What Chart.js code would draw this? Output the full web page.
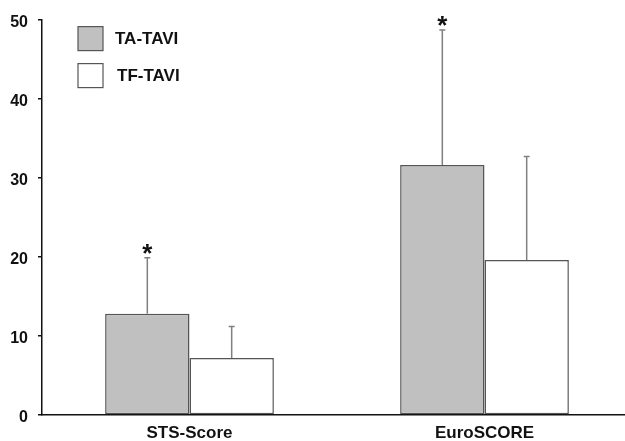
<!DOCTYPE html>
<html>
<head>
<meta charset="utf-8">
<script src="https://cdn.jsdelivr.net/npm/chart.js@4"></script>
<style>
    html, body { margin: 0; padding: 0; background: #fff; overflow: hidden; }
    #wrap { width: 632px; height: 441px; }
</style>
</head>
<body>
<div id="wrap"><canvas id="scoreChart"></canvas></div>
<script>
// risk scores, TA-TAVI vs TF-TAVI (mean + SD, upper error only)
const categories = ['STS-Score', 'EuroSCORE'];
const seriesNames = ['TA-TAVI', 'TF-TAVI'];
const taMean = [12.8, 31.6];
const taSD = [7.1, 17.1];
const tfMean = [7.2, 19.6];
const tfSD = [4.0, 13.1];
const taSignificant = [true, true];
const yTicks = [0, 10, 20, 30, 40, 50];

const FONT = 'Liberation Sans, Arial, sans-serif';

// Upper error bars + asterisks
const errorBarPlugin = {
    id: 'errorBars',
    afterDatasetsDraw(chart) {
        const ctx = chart.ctx;
        const y = chart.scales.y;
        chart.data.datasets.forEach((ds, di) => {
            const meta = chart.getDatasetMeta(di);
            meta.data.forEach((bar, i) => {
                const top = y.getPixelForValue(ds.data[i] + ds.sd[i]);
                ctx.save();
                ctx.strokeStyle = '#808080';
                ctx.lineWidth = 1.5;
                ctx.beginPath();
                ctx.moveTo(bar.x, bar.y);
                ctx.lineTo(bar.x, top);
                ctx.moveTo(bar.x - 3, top);
                ctx.lineTo(bar.x + 3, top);
                ctx.stroke();
                if (ds.significant && ds.significant[i]) {
                    ctx.fillStyle = '#111';
                    ctx.font = 'bold 26px ' + FONT;
                    ctx.textAlign = 'center';
                    ctx.textBaseline = 'alphabetic';
                    ctx.fillText('*', bar.x, top + 4);
                }
                ctx.restore();
            });
        });
    }
};

// Legend boxes in the top-left of the plot
const boxLegendPlugin = {
    id: 'boxLegend',
    afterDraw(chart) {
        const ctx = chart.ctx;
        const area = chart.chartArea;
        chart.data.datasets.forEach((ds, i) => {
            const bx = area.left + 36;
            const by = area.top + 7 + i * 37;
            ctx.save();
            ctx.fillStyle = ds.backgroundColor;
            ctx.strokeStyle = '#555';
            ctx.lineWidth = 1.2;
            ctx.fillRect(bx, by, 25, 24);
            ctx.strokeRect(bx, by, 25, 24);
            ctx.fillStyle = '#111';
            ctx.font = 'bold 17px ' + FONT;
            ctx.textAlign = 'left';
            ctx.textBaseline = 'middle';
            ctx.fillText(ds.label, bx + 37 + i * 2, by + 13);
            ctx.restore();
        });
    }
};

new Chart(document.getElementById('scoreChart'), {
    type: 'bar',
    data: {
        labels: categories,
        datasets: [{
            label: seriesNames[0],
            data: taMean,
            sd: taSD,
            significant: taSignificant,
            backgroundColor: '#c0c0c0',
            borderColor: '#555',
            borderWidth: 1.5,
            borderSkipped: false
        }, {
            label: seriesNames[1],
            data: tfMean,
            sd: tfSD,
            backgroundColor: '#ffffff',
            borderColor: '#555',
            borderWidth: 1.5,
            borderSkipped: false
        }]
    },
    options: {
        responsive: true,
        maintainAspectRatio: false,
        animation: false,
        layout: { padding: { top: 19, right: 0, left: 0, bottom: 0 } },
        datasets: { bar: { categoryPercentage: 0.572, barPercentage: 1.0 } },
        plugins: {
            legend: { display: false },
            tooltip: { enabled: false }
        },
        scales: {
            x: {
                grid: { display: false, drawTicks: false },
                border: { color: '#111', width: 1.5 },
                ticks: {
                    color: '#111',
                    padding: 8,
                    font: { family: FONT, size: 17, weight: 'bold' }
                },
                afterFit(scale) { scale.height = 26; }
            },
            y: {
                min: 0,
                max: 50,
                afterBuildTicks(scale) { scale.ticks = yTicks.map(v => ({ value: v })); },
                grid: { drawOnChartArea: false, drawTicks: true, tickLength: 4, color: '#111', lineWidth: 1.5 },
                border: { color: '#111', width: 1.5 },
                ticks: {
                    color: '#111',
                    padding: 10,
                    labelOffset: 3,
                    font: { family: FONT, size: 16, weight: 'bold' }
                },
                afterFit(scale) { scale.width = 42; }
            }
        }
    },
    plugins: [errorBarPlugin, boxLegendPlugin]
});
</script>
</body>
</html>
